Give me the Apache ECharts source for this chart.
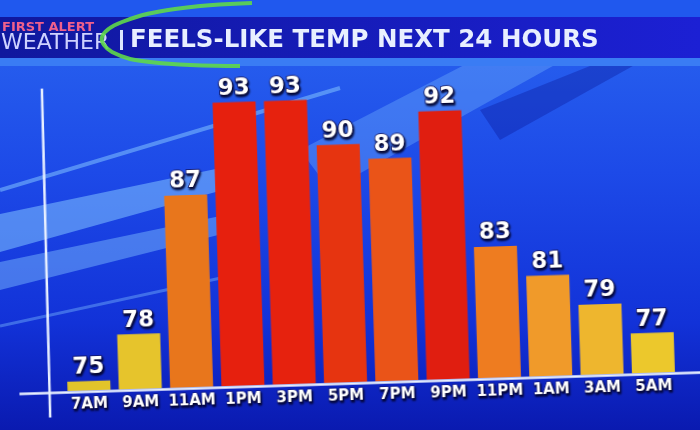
<!DOCTYPE html>
<html>
<head>
<meta charset="utf-8">
<script src="https://cdn.jsdelivr.net/npm/echarts@6/dist/echarts.min.js"></script>
<style>
  html, body { margin: 0; padding: 0; width: 700px; height: 430px; overflow: hidden; background: #1a44e0; }
  #bg, #chart { position: absolute; left: 0; top: 0; width: 700px; height: 430px; }
  /* the TV graphic is shot slightly tilted */
  #chart { transform: rotate(-1.8deg); transform-origin: 350px 215px; }
</style>
</head>
<body>
<div id="bg"></div>
<div id="chart"></div>
<script>
// Feels-like temperatures, every 2 hours
const hours = ["7AM", "9AM", "11AM", "1PM", "3PM", "5PM", "7PM", "9PM", "11PM", "1AM", "3AM", "5AM"];
const feelsLike = [75, 78, 87, 93, 93, 90, 89, 92, 83, 81, 79, 77];
const barColors = ["#e2c42a", "#e6c42c", "#e8761c", "#e6200e", "#e6220e", "#e63410", "#ea5418", "#e01e10", "#ee7c20", "#f09a2a", "#eeb62e", "#ecc82c"];

const titleText = "FEELS-LIKE TEMP NEXT 24 HOURS";
const brandTop = "FIRST ALERT";
const brandBottom = "WEATHER";

// --- background + title bar ---
const bg = echarts.init(document.getElementById("bg"));
const streak = "rgba(130,195,255,0.55)";
bg.setOption({
  backgroundColor: {
    type: "linear", x: 0, y: 0, x2: 0, y2: 1,
    colorStops: [
      { offset: 0, color: "#2a66f0" },
      { offset: 0.4, color: "#1d4ae8" },
      { offset: 0.75, color: "#1232d8" },
      { offset: 1, color: "#0a1ab0" },
    ],
  },
  graphic: [
    // light swooshes
    { type: "polyline", shape: { points: [[0, 190], [340, 88]] }, style: { stroke: streak, lineWidth: 4 } },
    { type: "polygon", shape: { points: [[0, 214], [230, 166], [230, 188], [0, 252]] }, style: { fill: streak } },
    { type: "polygon", shape: { points: [[0, 262], [230, 214], [230, 232], [0, 290]] }, style: { fill: "rgba(130,195,255,0.45)" } },
    { type: "polyline", shape: { points: [[0, 326], [230, 276]] }, style: { stroke: "rgba(130,195,255,0.4)", lineWidth: 3 } },
    { type: "polygon", shape: { points: [[300, 150], [470, 62], [560, 62], [330, 190]] }, style: { fill: "rgba(120,185,255,0.35)" } },
    { type: "polygon", shape: { points: [[480, 110], [600, 62], [640, 62], [500, 140]] }, style: { fill: "rgba(10,20,150,0.35)" } },
    // title band
    { type: "rect", shape: { x: 0, y: 0, width: 700, height: 17 }, style: { fill: "#2058ee" } },
    {
      type: "rect", shape: { x: 0, y: 17, width: 700, height: 41 },
      style: {
        fill: {
          type: "linear", x: 0, y: 0, x2: 1, y2: 0,
          colorStops: [{ offset: 0, color: "#10189e" }, { offset: 1, color: "#1c20d4" }],
        },
      },
    },
    { type: "rect", shape: { x: 0, y: 58, width: 700, height: 8 }, style: { fill: "#3a7cf4" } },
    { type: "text", style: { text: brandTop, x: 2, y: 28, fill: "#f0608c", font: 'bold 13px "DejaVu Sans"', verticalAlign: "middle" } },
    { type: "text", style: { text: brandBottom, x: 1, y: 43, fill: "#cfd2ff", font: '22px "DejaVu Sans"', verticalAlign: "middle" } },
    { type: "rect", shape: { x: 120, y: 30, width: 3, height: 20 }, style: { fill: "#dfe6ff" } },
    { type: "text", style: { text: titleText, x: 130, y: 41, fill: "#e8efff", font: 'bold 24.5px "DejaVu Sans"', verticalAlign: "middle" } },
    // green marker scribble
    {
      type: "polyline", z: 10,
      shape: { points: [[252, 3], [175, 9], [122, 22], [102, 37], [112, 52], [150, 62], [240, 66]], smooth: 0.4 },
      style: { stroke: "#5fd84a", lineWidth: 4, opacity: 0.9 },
    },
  ],
});

// --- bar chart ---
const chart = echarts.init(document.getElementById("chart"));
const textFx = {
  color: "#ffffff",
  textBorderColor: "#12125a",
  textBorderWidth: 1.5,
  textShadowColor: "rgba(0,0,40,0.9)",
  textShadowBlur: 2,
  textShadowOffsetX: 1,
  textShadowOffsetY: 2,
};

chart.setOption({
  backgroundColor: "transparent",
  animation: false,
  grid: { left: 58, right: 26, top: 68, bottom: 48 },
  xAxis: {
    type: "category",
    data: hours,
    axisLine: { show: false },
    axisTick: { show: false },
    axisLabel: {
      ...textFx,
      textBorderWidth: 1,
      interval: 0,
      fontFamily: '"DejaVu Sans"',
      fontWeight: "bold",
      fontSize: 15,
      margin: 7,
    },
  },
  yAxis: {
    type: "value",
    min: 74.4,
    max: 95,
    axisLine: { show: false },
    axisTick: { show: false },
    axisLabel: { show: false },
    splitLine: { show: false },
  },
  series: [
    {
      type: "bar",
      barWidth: 43,
      data: feelsLike.map((v, i) => ({ value: v, itemStyle: { color: barColors[i] } })),
      label: {
        show: true,
        position: "top",
        distance: 2,
        ...textFx,
        fontFamily: '"DejaVu Sans"',
        fontWeight: "bold",
        fontSize: 23,
      },
    },
  ],
  graphic: [
    // axis cross lines
    { type: "line", shape: { x1: 14, y1: 383.5, x2: 712, y2: 383.5 }, style: { stroke: "#e8f0ff", lineWidth: 2.5 } },
    { type: "line", shape: { x1: 46, y1: 79, x2: 44, y2: 408 }, style: { stroke: "#e8f0ff", lineWidth: 2.5 } },
  ],
});
</script>
</body>
</html>
